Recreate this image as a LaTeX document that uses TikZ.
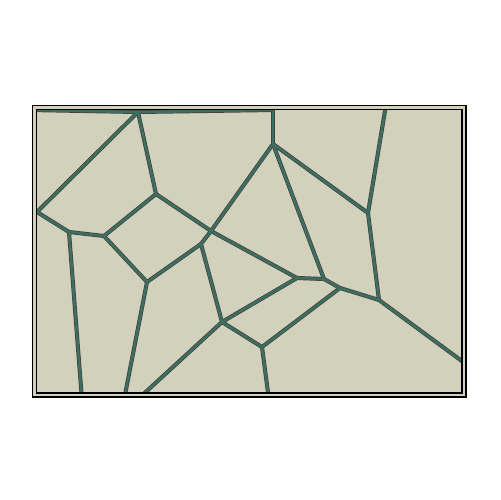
\documentclass[tikz,border=0pt]{standalone}
\definecolor{vbeige}{HTML}{D2D1BC}
\definecolor{vgreen}{HTML}{3E6E5F}
\tikzset{
  edgeout/.style={draw=black!75, line width=2.3pt, line cap=round, line join=round},
  edgein/.style={draw=vgreen, line width=1.5pt, line cap=round, line join=round},
}
\newcommand{\celledges}{t0/A, A/t1, t1/I, A/B, A/C, B/D, D/E, D/bD, E/C, E/G, C/F, F/M, I/F, F/H, H/G, H/R, G/bG, R/bR, R/M, R/Q, M/N, I/N, N/O, I/J, J/tJ, J/P, O/P, O/Q, P/rP, Q/bQ}

\begin{document}
\begin{tikzpicture}[x=0.02cm, y=-0.02cm]
  \useasboundingbox (0,0) rectangle (500,500);
  \filldraw[draw=black, fill=vbeige, line width=0.7pt] (32.5,105.5) rectangle (466,397);
  \coordinate (t0) at (30,110);
  \coordinate (A) at (138,112);
  \coordinate (t1) at (273,110);
  \coordinate (I) at (273,144);
  \coordinate (B) at (37,212);
  \coordinate (C) at (156,194);
  \coordinate (D) at (69,232);
  \coordinate (E) at (104,236);
  \coordinate (F) at (211,231);
  \coordinate (H) at (201,244);
  \coordinate (G) at (147,282);
  \coordinate (R) at (222,322);
  \coordinate (M) at (297,278);
  \coordinate (N) at (324,279);
  \coordinate (O) at (340,288);
  \coordinate (P) at (379,300);
  \coordinate (Q) at (262,347);
  \coordinate (J) at (368,213);
  \coordinate (tJ) at (386,105);
  \coordinate (bD) at (82,400);
  \coordinate (bG) at (124,400);
  \coordinate (bR) at (137,400);
  \coordinate (bQ) at (269,400);
  \coordinate (rP) at (470,367);
  \begin{scope}
    \clip (36.5,109.5) rectangle (462,393);
    \foreach \a/\b in \celledges {\draw[edgeout] (\a) -- (\b);}
    \foreach \a/\b in \celledges {\draw[edgein] (\a) -- (\b);}
  \end{scope}
  \draw[black, line width=0.6pt] (36.5,109.5) rectangle (462,393);
\end{tikzpicture}
\end{document}
